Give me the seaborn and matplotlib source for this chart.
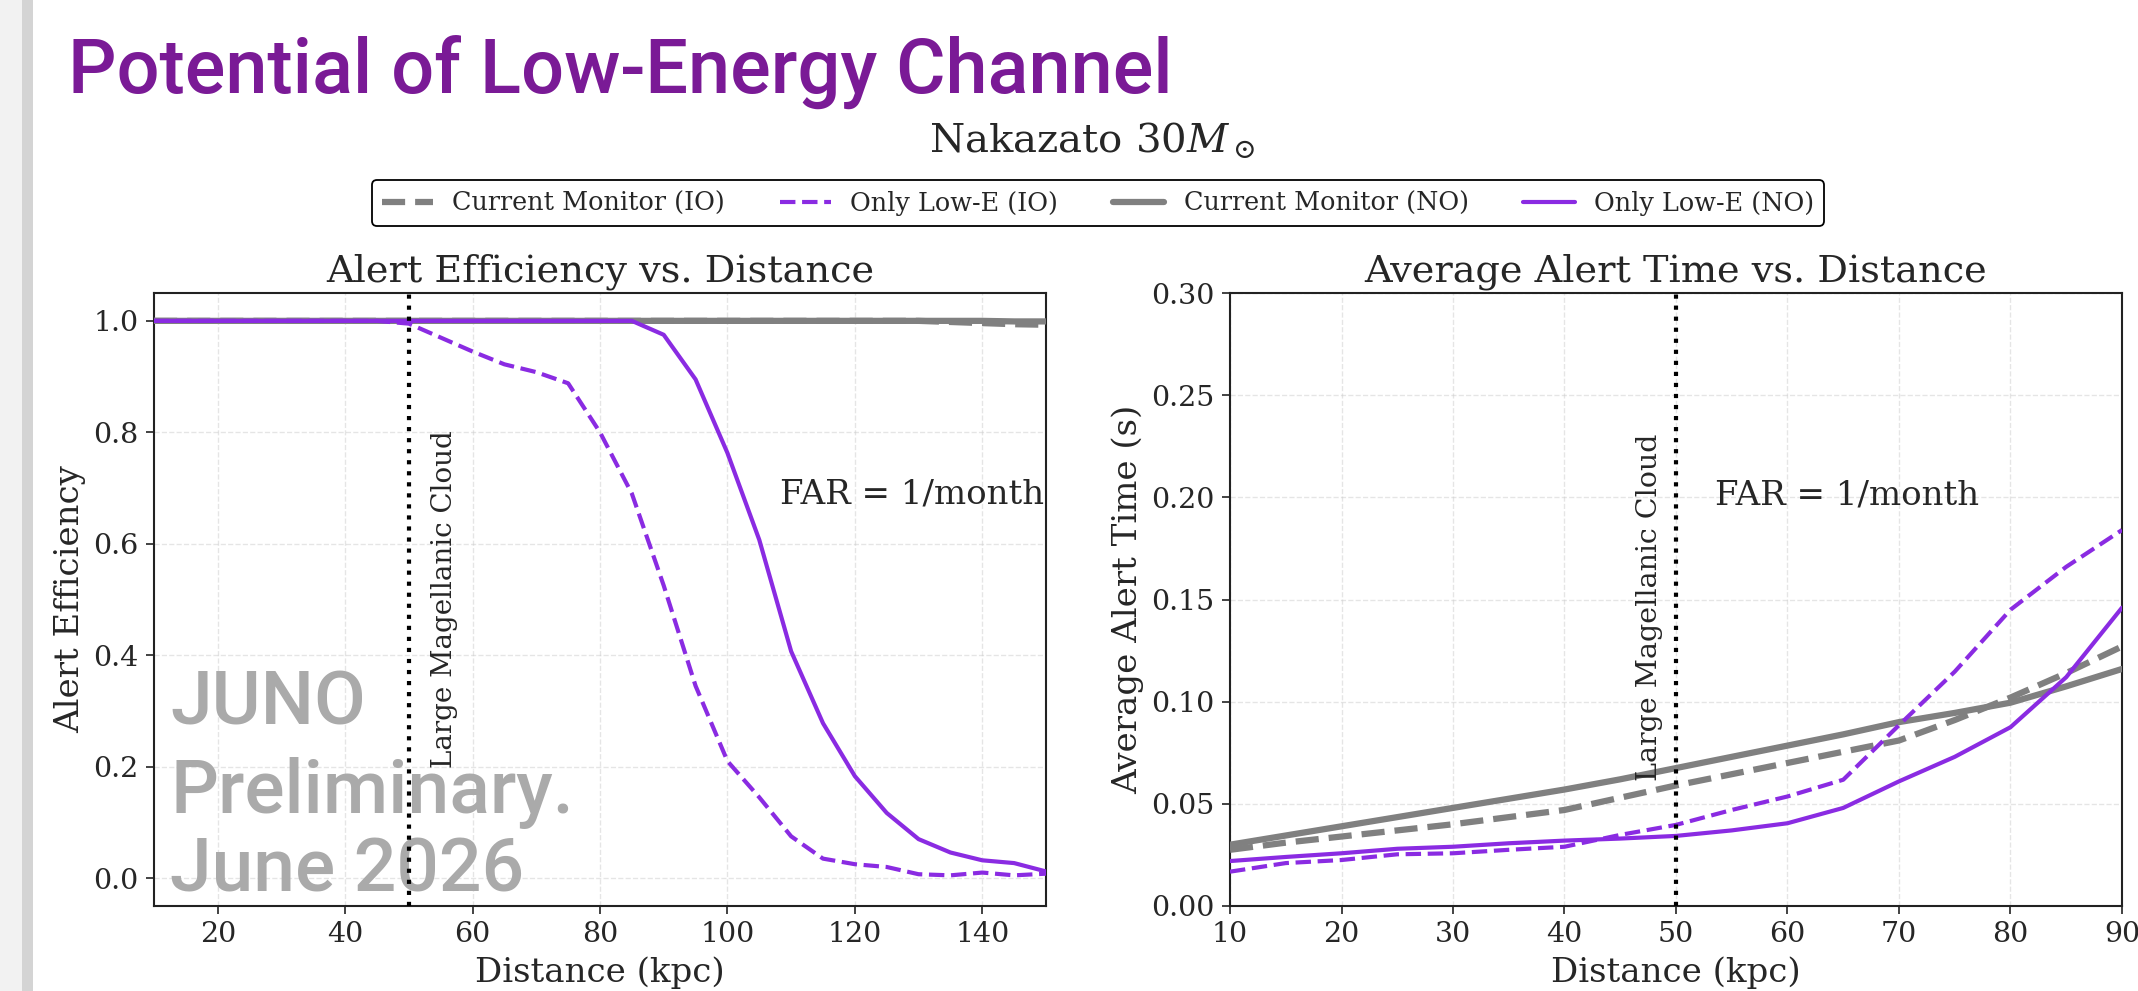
import numpy as np
import pandas as pd
import matplotlib
matplotlib.use("Agg")
import matplotlib.pyplot as plt
import seaborn as sns
from matplotlib.patches import Rectangle
from matplotlib.lines import Line2D

# ---------------- data ----------------
dist_eff = list(range(10, 151, 5))
eff_cm_io = [1.0] * 25 + [0.998, 0.996, 0.994, 0.993]
eff_cm_no = [1.0] * 27 + [0.999, 0.999]
eff_le_io = [1.0] * 8 + [0.995, 0.97, 0.945, 0.922, 0.908, 0.888, 0.80, 0.69, 0.525,
                         0.345, 0.21, 0.145, 0.075, 0.035, 0.025, 0.02, 0.007, 0.005,
                         0.01, 0.005, 0.008]
eff_le_no = [1.0] * 16 + [0.975, 0.895, 0.763, 0.607, 0.407, 0.278, 0.183, 0.117,
                          0.07, 0.046, 0.032, 0.027, 0.012]

dist_time = list(range(10, 91, 5))
t_cm_io = [0.0275, 0.031, 0.034, 0.037, 0.040, 0.0435, 0.047, 0.053, 0.059, 0.0645,
           0.070, 0.0755, 0.081, 0.091, 0.102, 0.114, 0.127]
t_cm_no = [0.030, 0.0345, 0.039, 0.0435, 0.048, 0.0525, 0.057, 0.062, 0.0675, 0.073,
           0.0785, 0.084, 0.090, 0.0945, 0.0995, 0.1075, 0.116]
t_le_io = [0.0168, 0.021, 0.0225, 0.0253, 0.0258, 0.0275, 0.029, 0.0348, 0.0397, 0.047,
           0.0536, 0.0618, 0.0885, 0.1147, 0.145, 0.166, 0.184]
t_le_no = [0.022, 0.024, 0.0258, 0.028, 0.029, 0.0307, 0.032, 0.033, 0.0343, 0.037,
           0.0405, 0.048, 0.061, 0.073, 0.0875, 0.112, 0.146]

labels = ["Current Monitor (IO)", "Only Low-E (IO)", "Current Monitor (NO)", "Only Low-E (NO)"]
title_main = "Potential of Low-Energy Channel"
suptitle = r"Nakazato $30M_\odot$"
title_left = "Alert Efficiency vs. Distance"
title_right = "Average Alert Time vs. Distance"
xlabel = "Distance (kpc)"
ylabel_left = "Alert Efficiency"
ylabel_right = "Average Alert Time (s)"
lmc_text = "Large Magellanic Cloud"
far_text = "FAR = 1/month"
watermark = ["JUNO", "Preliminary.", "June 2026"]

# ---------------- style ----------------
sns.set_theme(style="ticks")
plt.rcParams["font.family"] = ["DejaVu Serif"]
plt.rcParams["mathtext.fontset"] = "dejavuserif"

GRAY = "#808080"
PURPLE = "#8a2be2"
TITLE_PURPLE = "#7a1a96"
SERIF = ["DejaVu Serif"]
SANS = ["Roboto", "DejaVu Sans"]

W, H = 2138, 991
fig = plt.figure(figsize=(W / 100, H / 100), dpi=100)
fig.patch.set_facecolor("white")

# slide left border strip
fig.add_artist(Rectangle((0, 0), 22 / W, 1, transform=fig.transFigure,
                         facecolor="#f2f2f2", edgecolor="none", zorder=-5))
fig.add_artist(Rectangle((22 / W, 0), 11 / W, 1, transform=fig.transFigure,
                         facecolor="#d4d4d4", edgecolor="none", zorder=-5))

TOP, BOT = 293, 906
ax1 = fig.add_axes([154 / W, 1 - BOT / H, (1046 - 154) / W, (BOT - TOP) / H])
ax2 = fig.add_axes([1230 / W, 1 - BOT / H, (2122 - 1230) / W, (BOT - TOP) / H])

series_style = [
    (GRAY, "--", 4.5),
    (PURPLE, "--", 3.0),
    (GRAY, "-", 4.5),
    (PURPLE, "-", 3.0),
]

eff_df = pd.DataFrame({"d": dist_eff, labels[0]: eff_cm_io, labels[1]: eff_le_io,
                       labels[2]: eff_cm_no, labels[3]: eff_le_no})
time_df = pd.DataFrame({"d": dist_time, labels[0]: t_cm_io, labels[1]: t_le_io,
                        labels[2]: t_cm_no, labels[3]: t_le_no})

order = [0, 2, 1, 3]  # gray first, purple on top
for ax, df in ((ax1, eff_df), (ax2, time_df)):
    for i in order:
        c, ls, lw = series_style[i]
        sns.lineplot(data=df, x="d", y=labels[i], ax=ax, color=c, linestyle=ls,
                     linewidth=lw, label=labels[i], legend=False, zorder=3)

TICK_FS = 20.5
LABEL_FS = 24.5
TITLE_FS = 27.5
for ax in (ax1, ax2):
    ax.axvline(50, color="black", linestyle=":", linewidth=3, zorder=4)
    ax.grid(True, linestyle="--", color="#cccccc", alpha=0.5, linewidth=1)
    ax.set_axisbelow(True)
    for s in ax.spines.values():
        s.set_visible(True)
        s.set_color("#222222")
        s.set_linewidth(1.5)
    ax.tick_params(axis="both", labelsize=TICK_FS, length=6, width=1.2, direction="out",
                   color="#222222", pad=5)
    ax.set_xlabel(xlabel, fontsize=LABEL_FS, family=SERIF, labelpad=6)
    ax.set_facecolor("white")

ax1.set_xlim(10, 150)
ax1.set_ylim(-0.05, 1.05)
ax1.set_xticks([20, 40, 60, 80, 100, 120, 140])
ax1.set_yticks([0.0, 0.2, 0.4, 0.6, 0.8, 1.0])
ax1.set_ylabel(ylabel_left, fontsize=LABEL_FS, family=SERIF, labelpad=5)
ax1.set_title(title_left, fontsize=TITLE_FS, family=SERIF, pad=8)

ax2.set_xlim(10, 90)
ax2.set_ylim(0, 0.30)
ax2.set_xticks([10, 20, 30, 40, 50, 60, 70, 80, 90])
ax2.set_yticks([0.00, 0.05, 0.10, 0.15, 0.20, 0.25, 0.30])
ax2.yaxis.set_major_formatter(matplotlib.ticker.FormatStrFormatter("%.2f"))
ax2.set_ylabel(ylabel_right, fontsize=LABEL_FS, family=SERIF, labelpad=5)
ax2.set_title(title_right, fontsize=TITLE_FS, family=SERIF, pad=8)

# annotations
ax1.text(53.4, 0.5, lmc_text, rotation=90, ha="left", va="center", fontsize=20,
         family=SERIF, zorder=5)
ax2.text(48.8, 0.146, lmc_text, rotation=90, ha="right", va="center", fontsize=20.5,
         family=SERIF, zorder=5)
ax1.text(108.3, 0.688, far_text, ha="left", va="center", fontsize=24.5, family=SERIF, zorder=5)
ax2.text(53.5, 0.201, far_text, ha="left", va="center", fontsize=24.5, family=SERIF, zorder=5)

# watermark
for txt, yb in zip(watermark, [0.296, 0.151, 0.023]):
    ax1.text(0.018, yb, txt, transform=ax1.transAxes, ha="left", va="baseline",
             fontsize=54, family=SANS, weight="medium", color="#aaaaaa", zorder=2)

# slide title & subtitle
fig.text(68 / W, 1 - 93 / H, title_main, ha="left", va="baseline", fontsize=54.5,
         family=SANS, weight="medium", color=TITLE_PURPLE)
fig.text(1092 / W, 1 - 140 / H, suptitle, ha="center", va="center", fontsize=29, family=SERIF)

# legend
handles = []
for i in range(4):
    c, ls, lw = series_style[i]
    handles.append(Line2D([0], [0], color=c, linestyle=ls, linewidth=lw))
leg = fig.legend(handles, labels, loc="center", bbox_to_anchor=(1098 / W, 1 - 203 / H),
                 ncol=4, frameon=True, fancybox=True, handlelength=2.0,
                 columnspacing=2.15, borderpad=0.4, handletextpad=0.75,
                 prop={"family": SERIF, "size": 18.4})
leg.get_frame().set_edgecolor("black")
leg.get_frame().set_linewidth(1.3)
leg.get_frame().set_alpha(1)

fig.savefig("out.png", dpi=100)
